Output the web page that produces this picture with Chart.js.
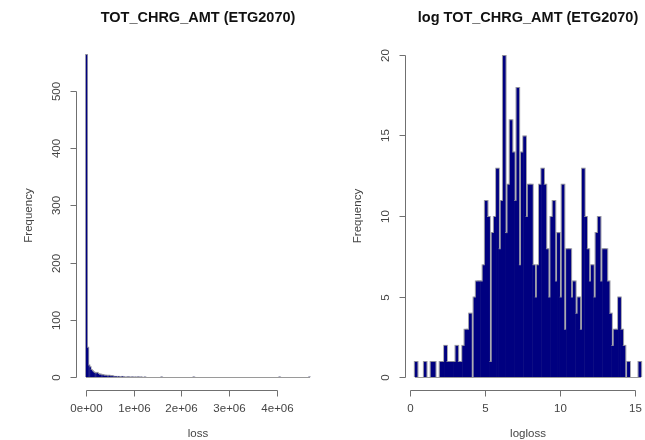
<!DOCTYPE html>
<html>
<head>
<meta charset="utf-8">
<script src="https://cdn.jsdelivr.net/npm/chart.js@4.4.1/dist/chart.umd.min.js"></script>
<style>
  html, body { margin: 0; padding: 0; background: #fff; }
  #wrap { position: relative; width: 645px; height: 440px; overflow: hidden; }
  canvas { position: absolute; top: 0; }
</style>
</head>
<body>
<div id="wrap">
  <canvas id="histLoss" width="330" height="440" style="left:0"></canvas>
  <canvas id="histLog" width="320" height="440" style="left:330px"></canvas>
</div>
<script>
// left panel: loss, bins of 25000 starting at 0
const lossBreakStart = 0;
const lossBinWidth = 25000;
const lossCounts = [
  565, 53, 22, 19, 14, 12, 10, 9, 8, 9,
  7, 6, 6, 5, 5, 4, 4, 4, 3, 4,
  3, 3, 3, 2, 2, 2, 1, 2, 1, 1,
  2, 1, 1, 0, 1, 1, 1, 0, 1, 1,
  0, 1, 0, 1, 1, 0, 1, 0, 0, 1,
  0, 0, 0, 0, 0, 0, 0, 0, 0, 0,
  0, 0, 0, 1, 0, 0, 0, 0, 0, 0,
  0, 0, 0, 0, 0, 0, 0, 0, 0, 0,
  0, 0, 0, 0, 0, 0, 0, 0, 0, 0,
  1, 0, 0, 0, 0, 0, 0, 0, 0, 0,
  0, 0, 0, 0, 0, 0, 0, 0, 0, 0,
  0, 0, 0, 0, 0, 0, 0, 0, 0, 0,
  0, 0, 0, 0, 0, 0, 0, 0, 0, 0,
  0, 0, 0, 0, 0, 0, 0, 0, 0, 0,
  0, 0, 0, 0, 0, 0, 0, 0, 0, 0,
  0, 0, 0, 0, 0, 0, 0, 0, 0, 0,
  0, 0, 1, 0, 0, 0, 0, 0, 0, 0,
  0, 0, 0, 0, 0, 0, 0, 0, 0, 0,
  0, 0, 0, 0, 0, 0, 0, 1
];
const lossTickValues = [0, 1e6, 2e6, 3e6, 4e6];
const lossTickLabels = ["0e+00", "1e+06", "2e+06", "3e+06", "4e+06"];
const lossFreqTicks = [0, 100, 200, 300, 400, 500];

// right panel: logloss, 100 bins
const logBreakStart = 0.33;
const logBinWidth = 0.151;
const logCounts = [
  1, 0, 0, 0, 1, 0, 0, 1, 1, 0,
  0, 1, 1, 2, 1, 1, 1, 1, 2, 1,
  1, 2, 3, 3, 4, 0, 5, 6, 6, 6,
  7, 11, 10, 1, 9, 10, 13, 8, 11, 20,
  9, 12, 16, 14, 11, 18, 7, 14, 15, 10,
  12, 12, 7, 5, 7, 12, 13, 12, 8, 5,
  10, 11, 6, 9, 5, 12, 3, 8, 8, 5,
  6, 4, 5, 3, 13, 10, 8, 6, 7, 5,
  9, 10, 6, 8, 8, 6, 4, 2, 3, 3,
  5, 3, 2, 0, 1, 0, 0, 0, 0, 1
];
const logTickValues = [0, 5, 10, 15];
const logTickLabels = ["0", "5", "10", "15"];
const logFreqTicks = [0, 5, 10, 15, 20];

const FONT = "'Liberation Sans', Arial, sans-serif";

// R style axes: lines only from first to last tick, rotated y labels
const rAxes = {
  id: "rAxes",
  beforeDatasetsDraw(chart, args, o) {
    const ctx = chart.ctx;
    const xs = chart.scales.x, ys = chart.scales.y;
    const y0 = Math.round(ys.getPixelForValue(0)) + 0.5;
    ctx.save();
    ctx.strokeStyle = "#9a9a9a";
    ctx.lineWidth = 1;
    ctx.beginPath();
    ctx.moveTo(xs.getPixelForValue(o.edges[0]), y0);
    ctx.lineTo(xs.getPixelForValue(o.edges[1]), y0);
    ctx.stroke();
    ctx.restore();
  },
  afterDraw(chart, args, o) {
    const ctx = chart.ctx;
    const xs = chart.scales.x, ys = chart.scales.y;
    const area = chart.chartArea;
    ctx.save();
    ctx.strokeStyle = "#707070";
    ctx.lineWidth = 1;
    ctx.fillStyle = "#444";
    ctx.font = "11.5px " + FONT;

    // x axis
    const yAx = Math.round(area.bottom) + 0.5;
    const xp = o.xTicks.map(v => Math.round(xs.getPixelForValue(v)) + 0.5);
    ctx.beginPath();
    ctx.moveTo(xp[0], yAx);
    ctx.lineTo(xp[xp.length - 1], yAx);
    xp.forEach(p => { ctx.moveTo(p, yAx); ctx.lineTo(p, yAx + 6); });
    ctx.stroke();
    ctx.textAlign = "center";
    ctx.textBaseline = "middle";
    xp.forEach((p, i) => ctx.fillText(o.xLabels[i], p, yAx + 18));

    // y axis
    const xAx = Math.round(area.left) - 0.5;
    const yp = o.yTicks.map(v => Math.round(ys.getPixelForValue(v)) + 0.5);
    ctx.beginPath();
    ctx.moveTo(xAx, yp[0]);
    ctx.lineTo(xAx, yp[yp.length - 1]);
    yp.forEach(p => { ctx.moveTo(xAx, p); ctx.lineTo(xAx - 6, p); });
    ctx.stroke();
    yp.forEach((p, i) => {
      ctx.save();
      ctx.translate(xAx - 20, p);
      ctx.rotate(-Math.PI / 2);
      ctx.fillText(String(o.yTicks[i]), 0, 0);
      ctx.restore();
    });

    // axis titles
    const cx = (area.left + area.right) / 2;
    const cy = (area.top + area.bottom) / 2;
    ctx.fillText(o.xTitle, cx, yAx + 43);
    ctx.save();
    ctx.translate(xAx - 48, cy);
    ctx.rotate(-Math.PI / 2);
    ctx.fillText(o.yTitle, 0, 0);
    ctx.restore();

    // main title
    ctx.fillStyle = "#111";
    ctx.font = "bold 14.5px " + FONT;
    ctx.fillText(o.title, cx, 18);
    ctx.restore();
  }
};

function makeHist(id, counts, start, width, cfg) {
  const points = counts.map((c, i) => ({ x: start + (i + 0.5) * width, y: c }));
  const first = start;
  const last = start + counts.length * width;
  const xr = last - first;
  const ymax = Math.max(...counts);

  new Chart(document.getElementById(id), {
    type: "bar",
    data: {
      datasets: [
        {
          // fill, a bit wider so neighbours overlap and leave no seams
          data: points,
          backgroundColor: "#000080",
          borderColor: "#8a8a9a",
          borderWidth: { top: 1, right: 0, bottom: 0, left: 0 },
          barPercentage: cfg.fillPct,
          categoryPercentage: 1,
          grouped: false
        },
        {
          // grey border that only shows where a bar rises above its neighbour
          data: points,
          backgroundColor: "#9a9aa6",
          borderWidth: 0,
          barPercentage: cfg.edgePct,
          categoryPercentage: 1,
          grouped: false
        }
      ]
    },
    options: {
      responsive: false,
      animation: false,
      events: [],
      layout: { padding: cfg.padding },
      scales: {
        x: { type: "linear", offset: false, min: first - 0.04 * xr, max: last + 0.04 * xr, display: false },
        y: { type: "linear", min: -0.04 * ymax, max: ymax * 1.04, display: false }
      },
      plugins: {
        legend: { display: false },
        tooltip: { enabled: false },
        rAxes: {
          edges: [first, last],
          xTicks: cfg.xTicks,
          xLabels: cfg.xLabels,
          yTicks: cfg.yTicks,
          xTitle: cfg.xTitle,
          yTitle: "Frequency",
          title: cfg.title
        }
      }
    },
    plugins: [rAxes]
  });
}

makeHist("histLoss", lossCounts, lossBreakStart, lossBinWidth, {
  padding: { left: 77, right: 11, top: 41, bottom: 50 },
  fillPct: 1.4,
  edgePct: 2.4,
  xTicks: lossTickValues,
  xLabels: lossTickLabels,
  yTicks: lossFreqTicks,
  xTitle: "loss",
  title: "TOT_CHRG_AMT (ETG2070)"
});

makeHist("histLog", logCounts, logBreakStart, logBinWidth, {
  padding: { left: 76, right: 0, top: 42, bottom: 50 },
  fillPct: 1.3,
  edgePct: 2.05,
  xTicks: logTickValues,
  xLabels: logTickLabels,
  yTicks: logFreqTicks,
  xTitle: "logloss",
  title: "log TOT_CHRG_AMT (ETG2070)"
});
</script>
</body>
</html>
